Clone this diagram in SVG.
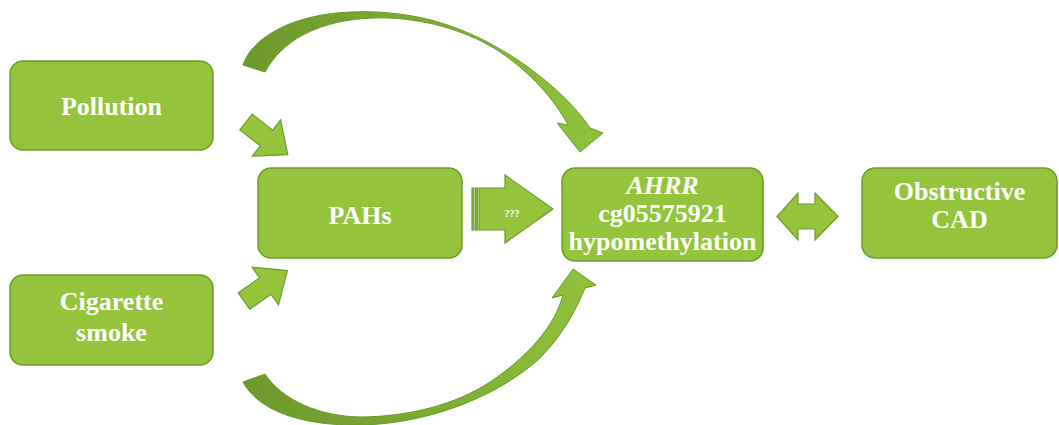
<svg xmlns="http://www.w3.org/2000/svg" width="1059" height="425" viewBox="0 0 1059 425">
  <style>
    .box { fill: #93c43b; stroke: #6f9a2c; stroke-width: 1.5; }
    .arr { fill: #93c43b; stroke: #6f9a2c; stroke-width: 1.2; stroke-linejoin: miter; }
    .lbl { font-family: "Liberation Serif", "Times New Roman", serif; font-weight: bold; font-size: 26px; fill: #ffffff; text-anchor: middle; }
    .small { font-size: 10px; }
  </style>
  <defs>
    <linearGradient id="gTop" gradientUnits="userSpaceOnUse" x1="243" y1="60" x2="600" y2="140">
      <stop offset="0" stop-color="#6c992c"/>
      <stop offset="0.5" stop-color="#7fae34"/>
      <stop offset="1" stop-color="#8fc33b"/>
    </linearGradient>
    <linearGradient id="gBot" gradientUnits="userSpaceOnUse" x1="243" y1="390" x2="595" y2="280">
      <stop offset="0" stop-color="#6c992c"/>
      <stop offset="0.5" stop-color="#7fae34"/>
      <stop offset="1" stop-color="#8fc33b"/>
    </linearGradient>
  </defs>
  <rect width="1059" height="425" fill="#ffffff"/>

  <g id="connectors">
    <path id="curve-top" fill="url(#gTop)" stroke="#6a9a2a" stroke-width="1" d="M243,65 C250,42 285,15 350,12 C420,9 470,30 510,55 C545,77 575,105 590,128 L603,133 L580,152 L557,123 L568,125 C555,100 530,72 500,52 C470,32 430,20 390,18 C330,16 285,35 265,72 Z"/>
    <path id="curve-bottom" fill="url(#gBot)" stroke="#6a9a2a" stroke-width="1" d="M243,382 C258,410 300,426 360,425 C430,424 500,395 540,358 C560,338 575,313 585,288 L596,285 L573,269 L552,298 L563,295 C555,325 530,355 490,382 C455,405 410,416 363,417 C320,417 282,400 265,374 Z"/>
    <path id="pollution-to-pahs" class="arr" transform="translate(246,122) rotate(38)" d="M0,-10 H26 V-23 L53,0 L26,23 V10 H0 Z"/>
    <path id="smoke-to-pahs" class="arr" transform="translate(244,301) rotate(-35)" d="M0,-10 H26 V-23 L53,0 L26,23 V10 H0 Z"/>
    <g id="pahs-to-ahrr">
      <rect class="arr" x="472" y="188" width="1.8" height="42"/>
      <rect class="arr" x="475.5" y="188" width="1.8" height="42"/>
      <path class="arr" d="M479,188 H505 V175 L553,209 L505,243 V230 H479 Z"/>
      <text class="lbl small" x="512" y="217">???</text>
    </g>
    <path id="ahrr-cad" class="arr" d="M777,216.5 L798,193 V204 H815 V193 L838,216.5 L815,240 V229 H798 V240 Z"/>
  </g>

  <g id="node-pollution">
    <rect class="box" x="10" y="61" width="203" height="89" rx="13"/>
    <text class="lbl" x="111.5" y="115">Pollution</text>
  </g>
  <g id="node-smoke">
    <rect class="box" x="10" y="275" width="203" height="90" rx="13"/>
    <text class="lbl" x="111.5" y="310">Cigarette</text>
    <text class="lbl" x="111.5" y="341">smoke</text>
  </g>
  <g id="node-pahs">
    <rect class="box" x="258" y="168" width="204" height="90" rx="13"/>
    <text class="lbl" x="360" y="224">PAHs</text>
  </g>
  <g id="node-ahrr">
    <rect class="box" x="562" y="168" width="201" height="93" rx="13"/>
    <text class="lbl" x="662.5" y="194" font-style="italic">AHRR</text>
    <text class="lbl" x="662.5" y="222">cg05575921</text>
    <text class="lbl" x="662.5" y="250">hypomethylation</text>
  </g>
  <g id="node-cad">
    <rect class="box" x="862" y="168" width="195" height="90" rx="13"/>
    <text class="lbl" x="959.5" y="200">Obstructive</text>
    <text class="lbl" x="959.5" y="228">CAD</text>
  </g>
</svg>
